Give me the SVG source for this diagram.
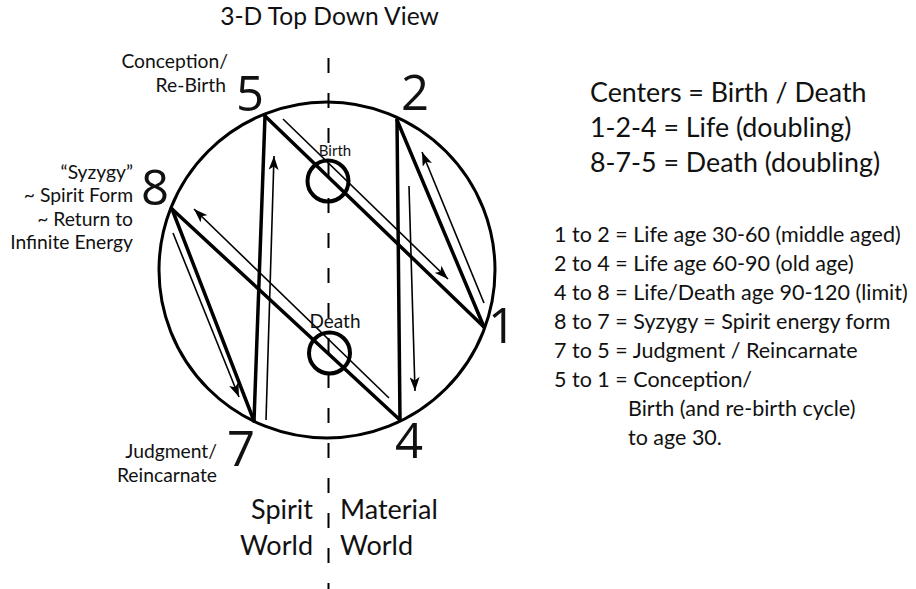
<svg xmlns="http://www.w3.org/2000/svg" width="916" height="589" viewBox="0 0 916 589">
<style>
text{font-family:Lato,"Open Sans","Liberation Sans",sans-serif;fill:#111}
.num{font-family:"Open Sans","Noto Sans",sans-serif;font-size:49px;text-anchor:middle}
.side{font-size:19.3px;text-anchor:end}
.top{font-size:26.8px}
.list{font-size:21.5px}
.world{font-size:27px}
.thick{stroke:#000;stroke-width:3.5;fill:none;stroke-linecap:round}
.thin{stroke:#000;stroke-width:1.6;fill:none;marker-end:url(#ah)}
</style>
<defs>
<marker id="ah" markerUnits="userSpaceOnUse" viewBox="0 0 14 10" refX="14" refY="5" markerWidth="14" markerHeight="10" orient="auto">
<path d="M0,0 L14,5 L0,10 L3.5,5 z" fill="#000"/>
</marker>
</defs>
<rect width="916" height="589" fill="#fff"/>
<text x="329.5" y="25" font-size="24.6" text-anchor="middle">3-D Top Down View</text>
<line x1="328.5" y1="58" x2="328.5" y2="589" stroke="#000" stroke-width="2" stroke-dasharray="15 20"/>
<circle cx="327" cy="270" r="168" fill="none" stroke="#000" stroke-width="3"/>
<g id="connectors">
<line class="thick" x1="265" y1="116" x2="484" y2="327"/>
<line class="thick" x1="484" y1="327" x2="397" y2="120"/>
<line class="thick" x1="397" y1="120" x2="400" y2="420"/>
<line class="thick" x1="400" y1="420" x2="172" y2="209"/>
<line class="thick" x1="172" y1="209" x2="254" y2="421"/>
<line class="thick" x1="254" y1="421" x2="265" y2="116"/>
<line class="thin" x1="283" y1="119" x2="448" y2="279"/>
<line class="thin" x1="484" y1="303" x2="422" y2="152"/>
<line class="thin" x1="409" y1="186" x2="415" y2="391"/>
<line class="thin" x1="389" y1="398" x2="194" y2="209"/>
<line class="thin" x1="173" y1="233" x2="239" y2="397"/>
<line class="thin" x1="266" y1="420" x2="274" y2="156"/>
</g>
<g id="birth">
<circle cx="328" cy="181" r="20.5" fill="none" stroke="#000" stroke-width="4"/>
<text x="335" y="156" font-size="15" text-anchor="middle">Birth</text>
</g>
<g id="death">
<circle cx="329.5" cy="353" r="20.5" fill="none" stroke="#000" stroke-width="4"/>
<text x="335" y="328" font-size="19" text-anchor="middle">Death</text>
</g>
<g id="node-5">
<text class="num" x="250" y="111">5</text>
<text class="side" x="228" y="68">Conception/</text>
<text class="side" x="226" y="92">Re-Birth</text>
</g>
<g id="node-2"><text class="num" x="415" y="110">2</text></g>
<g id="node-8">
<text class="num" x="155" y="205">8</text>
<text class="side" x="133" y="179">“Syzygy”</text>
<text class="side" x="133" y="202">~ Spirit Form</text>
<text class="side" x="133" y="225.5">~ Return to</text>
<text class="side" x="133" y="249">Infinite Energy</text>
</g>
<g id="node-1"><text class="num" x="502" y="343">1</text></g>
<g id="node-4"><text class="num" x="409" y="458">4</text></g>
<g id="node-7">
<text class="num" x="241" y="466">7</text>
<text class="side" x="217" y="458">Judgment/</text>
<text class="side" x="217" y="482">Reincarnate</text>
</g>
<g id="worlds">
<text class="world" x="313" y="519" text-anchor="end">Spirit</text>
<text class="world" x="313" y="555" text-anchor="end">World</text>
<text class="world" x="340" y="519">Material</text>
<text class="world" x="340" y="555">World</text>
</g>
<g id="legend">
<text class="top" x="590" y="102">Centers = Birth / Death</text>
<text class="top" x="590" y="137">1-2-4 = Life (doubling)</text>
<text class="top" x="590" y="172">8-7-5 = Death (doubling)</text>
<text class="list" x="554" y="242">1 to 2 = Life age 30-60 (middle aged)</text>
<text class="list" x="554" y="271">2 to 4 = Life age 60-90 (old age)</text>
<text class="list" x="554" y="300">4 to 8 = Life/Death age 90-120 (limit)</text>
<text class="list" x="554" y="329">8 to 7 = Syzygy = Spirit energy form</text>
<text class="list" x="554" y="358">7 to 5 = Judgment / Reincarnate</text>
<text class="list" x="554" y="387">5 to 1 = Conception/</text>
<text class="list" x="628" y="416">Birth (and re-birth cycle)</text>
<text class="list" x="628" y="445">to age 30.</text>
</g>
</svg>
